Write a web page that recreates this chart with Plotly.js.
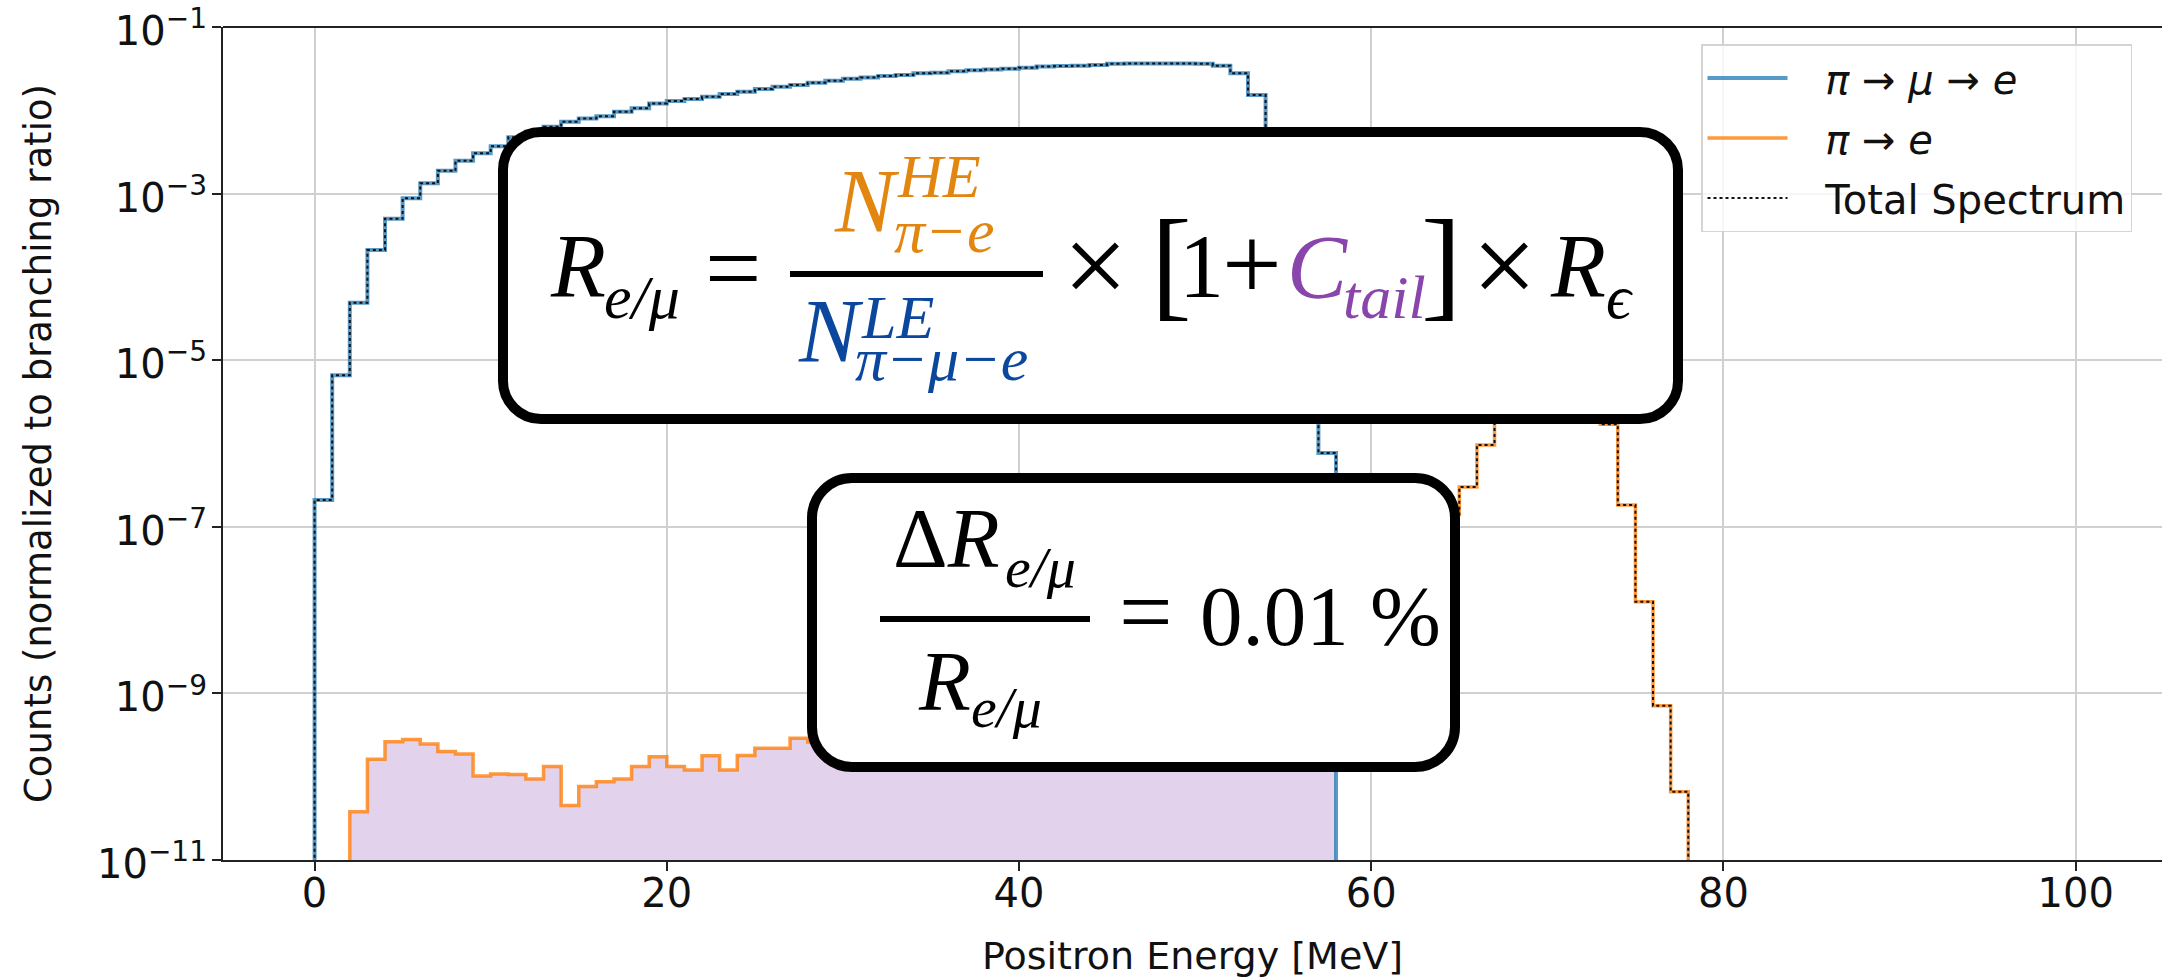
<!DOCTYPE html>
<html>
<head>
<meta charset="utf-8">
<script src="https://cdn.plot.ly/plotly-3.0.1.min.js"></script>
<style>
html,body{margin:0;padding:0;background:#fff;overflow:hidden}
#chart{width:2162px;height:978px}
</style>
</head>
<body>
<div id="chart"></div>
<script>
// ---------------- data (1 MeV bins, bin i covers [i, i+1) MeV) ----------------
const binWidth = 1;
// pi -> mu -> e spectrum, bins 0..57
const piMuE = [
  2.1e-7, 6.6e-6, 4.9e-5, 2.1e-4, 5.0e-4, 8.8e-4, 1.33e-3, 1.88e-3, 2.48e-3, 3.05e-3,
  3.7e-3, 4.74e-3, 5.53e-3, 6.35e-3, 7.3e-3, 8.0e-3, 8.5e-3, 9.6e-3, 1.06e-2, 1.21e-2,
  1.29e-2, 1.37e-2, 1.46e-2, 1.57e-2, 1.67e-2, 1.80e-2, 1.92e-2, 2.01e-2, 2.15e-2, 2.27e-2,
  2.40e-2, 2.47e-2, 2.58e-2, 2.65e-2, 2.78e-2, 2.83e-2, 2.94e-2, 3.02e-2, 3.10e-2, 3.16e-2,
  3.25e-2, 3.37e-2, 3.40e-2, 3.43e-2, 3.50e-2, 3.63e-2, 3.66e-2, 3.66e-2, 3.66e-2, 3.66e-2,
  3.63e-2, 3.43e-2, 2.78e-2, 1.53e-2, 1.2e-3, 6.0e-5, 4.0e-6, 7.7e-7
];
// pi -> e spectrum, bins 0..77
const piE = [
  0, 0, 3.8e-11, 1.62e-10, 2.63e-10, 2.8e-10, 2.47e-10, 2.0e-10, 1.87e-10, 1.02e-10,
  1.08e-10, 1.06e-10, 9.4e-11, 1.32e-10, 4.5e-11, 7.6e-11, 8.7e-11, 9.4e-11, 1.32e-10, 1.74e-10,
  1.32e-10, 1.2e-10, 1.78e-10, 1.2e-10, 1.8e-10, 2.2e-10, 2.2e-10, 2.9e-10, 2.6e-10, 3.0e-10,
  2.7e-10, 3.1e-10, 2.9e-10, 3.3e-10, 3.0e-10, 3.4e-10, 3.2e-10, 3.5e-10, 3.3e-10, 3.6e-10,
  3.4e-10, 3.7e-10, 3.5e-10, 3.8e-10, 3.6e-10, 3.9e-10, 3.7e-10, 4.0e-10, 3.9e-10, 4.2e-10,
  4.0e-10, 4.3e-10, 4.1e-10, 4.4e-10, 4.3e-10, 4.6e-10, 4.5e-10, 4.8e-10, 5.5e-10, 9.0e-10,
  2.0e-9, 6.0e-9, 2.0e-8, 6.0e-8, 1.4e-7, 3.0e-7, 9.6e-7, 6.0e-6, 3.0e-5, 1.0e-4,
  1.5e-4, 8.0e-5, 2.0e-5, 1.7e-6, 1.83e-7, 1.26e-8, 7.1e-10, 6.6e-11
];
// low-energy tail region shaded under the pi -> e spectrum (MeV)
const tailStart = 2, tailEnd = 58;

const seriesNames = ['<i>π</i> → <i>μ</i> → <i>e</i>', '<i>π</i> → <i>e</i>', 'Total Spectrum'];
const xTickVals = [0, 20, 40, 60, 80, 100];
const yTickVals = [1e-11, 1e-9, 1e-7, 1e-5, 1e-3, 1e-1];
const yTickText = ['10<sup>−11</sup>', '10<sup>−9</sup>', '10<sup>−7</sup>', '10<sup>−5</sup>', '10<sup>−3</sup>', '10<sup>−1</sup>'];

// ---------------- helpers ----------------
const FLOOR = 1e-14; // below the visible log range: step edges run off the bottom
function stepXY(values, first, lastExcl) {
  const xs = [first * binWidth], ys = [FLOOR];
  for (let i = first; i < lastExcl; i++) { xs.push(i * binWidth); ys.push(values[i]); }
  xs.push(lastExcl * binWidth); ys.push(FLOOR);
  return {x: xs, y: ys};
}
const nTot = Math.max(piMuE.length, piE.length);
const total = [];
for (let i = 0; i < nTot; i++) total.push((piMuE[i] || 0) + (piE[i] || 0));

const fillXY = stepXY(piE, tailStart, tailEnd);
const blueXY = stepXY(piMuE, 0, piMuE.length);
const orangeXY = stepXY(piE, 2, piE.length);
const totalXY = stepXY(total, 0, nTot);

const GAP = '\u2002\u00a0';
const traces = [
  {type:'scatter', mode:'lines', x:fillXY.x, y:fillXY.y, line:{shape:'hv', width:0},
   fill:'toself', fillcolor:'rgb(227,210,235)', showlegend:false, hoverinfo:'skip'},
  {type:'scatter', mode:'lines', name:GAP + seriesNames[0], legendgroup:'a', x:blueXY.x, y:blueXY.y,
   line:{shape:'hv', width:4, color:'rgba(31,119,180,0.75)'}},
  {type:'scatter', mode:'lines', name:GAP + seriesNames[1], legendgroup:'b', x:orangeXY.x, y:orangeXY.y,
   line:{shape:'hv', width:3.5, color:'rgba(255,127,14,0.8)'}},
  {type:'scatter', mode:'lines', name:GAP + seriesNames[2], legendgroup:'c', x:totalXY.x, y:totalXY.y,
   line:{shape:'hv', width:2, color:'#111', dash:'3px,3px'}}
];

// ---------------- overlay geometry (pixels -> paper) ----------------
const L = 223, R = 2162, T = 27, B = 860;
const PW = R - L, PH = B - T;
const px2x = p => (p - L) / PW;
const px2y = p => (B - p) / PH;

function roundRect(x0, y0, x1, y1, r) {
  const k = 0.5523 * r;
  const P = (x, y) => px2x(x).toFixed(5) + ',' + px2y(y).toFixed(5);
  return 'M' + P(x0 + r, y0) + ' L' + P(x1 - r, y0) +
    ' C' + P(x1 - r + k, y0) + ' ' + P(x1, y0 + r - k) + ' ' + P(x1, y0 + r) +
    ' L' + P(x1, y1 - r) +
    ' C' + P(x1, y1 - r + k) + ' ' + P(x1 - r + k, y1) + ' ' + P(x1 - r, y1) +
    ' L' + P(x0 + r, y1) +
    ' C' + P(x0 + r - k, y1) + ' ' + P(x0, y1 - r + k) + ' ' + P(x0, y1 - r) +
    ' L' + P(x0, y0 + r) +
    ' C' + P(x0, y0 + r - k) + ' ' + P(x0 + r - k, y0) + ' ' + P(x0 + r, y0) + ' Z';
}
function hbar(x0, x1, y, w) {
  return {type:'line', xref:'paper', yref:'paper', x0:px2x(x0), x1:px2x(x1), y0:px2y(y), y1:px2y(y),
    line:{color:'#000', width:w}, layer:'above'};
}
const SERIF = 'Liberation Serif, Times New Roman, serif';
function piece(text, left, baseline, size, color, italic) {
  const cy = baseline - (0.891 - 0.216) / 2 * size;
  return {xref:'paper', yref:'paper', x:px2x(left), y:px2y(cy), xanchor:'left', yanchor:'middle',
    text: italic ? '<i>' + text + '</i>' : text, showarrow:false, borderpad:0, borderwidth:0,
    font:{family:SERIF, size:size, color:color || '#000'}};
}
const ORANGE = '#e3860f', BLUE = '#0b479c', PURPLE = '#8a45ad';

const shapes = [
  {type:'line', xref:'paper', yref:'paper', x0:0, x1:1, y0:1, y1:1, line:{color:'#222', width:2}, layer:'above'},
  {type:'path', xref:'paper', yref:'paper', path:roundRect(503, 132, 1678, 419, 38),
   fillcolor:'#fff', line:{color:'#000', width:10}, layer:'above'},
  {type:'path', xref:'paper', yref:'paper', path:roundRect(812, 478, 1455, 767, 40),
   fillcolor:'#fff', line:{color:'#000', width:10}, layer:'above'},
  hbar(790, 1043, 274, 6),
  hbar(880, 1090, 619, 6)
];

const annotations = [
  // R_{e/mu} = N^HE_{pi-e} / N^LE_{pi-mu-e} x [1 + C_tail] x R_eps
  piece('R', 550, 297, 90, '#000', true),
  piece('e/μ', 604, 318, 62, '#000', true),
  piece('=', 705, 302, 100, '#000', false),
  piece('N', 834, 232, 90, ORANGE, true),
  piece('HE', 897, 197, 62, ORANGE, true),
  piece('π−e', 894, 252, 62, ORANGE, true),
  piece('N', 798, 362, 90, BLUE, true),
  piece('LE', 861, 338, 62, BLUE, true),
  piece('π−μ−e', 855, 380, 62, BLUE, true),
  piece('×', 1063, 304, 115, '#000', false),
  piece('[', 1151, 305, 122, '#000', false),
  piece('1', 1179, 297, 90, '#000', false),
  piece('+', 1222, 300, 106, '#000', false),
  piece('C', 1287, 298, 90, PURPLE, true),
  piece('tail', 1343, 318, 62, PURPLE, true),
  piece(']', 1421, 305, 122, '#000', false),
  piece('×', 1472, 304, 115, '#000', false),
  piece('R', 1550, 297, 90, '#000', true),
  piece('ϵ', 1606, 318, 62, '#000', true),
  // Delta R / R = 0.01 %
  piece('Δ<i>R</i>', 893, 567, 85, '#000', false),
  piece('e/μ', 1005, 587, 58, '#000', true),
  piece('R', 918, 710, 85, '#000', true),
  piece('e/μ', 971, 727, 58, '#000', true),
  piece('=', 1119, 644, 95, '#000', false),
  piece('0.01 %', 1200, 645, 85, '#000', false)
];

const axisCommon = {
  ticks:'outside', ticklen:9, tickwidth:2, tickcolor:'#222',
  showline:true, linecolor:'#222', linewidth:2,
  showgrid:true, gridcolor:'#d0d0d0', gridwidth:2, zeroline:false,
  tickfont:{family:'DejaVu Sans', size:40, color:'#111'}, automargin:false,
  ticklabeloverflow:'allow'
};

const layout = {
  width:2162, height:978,
  margin:{l:223, r:0, t:27, b:118},
  paper_bgcolor:'#fff', plot_bgcolor:'#fff',
  font:{family:'DejaVu Sans', color:'#111'},
  xaxis: Object.assign({}, axisCommon, {
    range:[-5.2, 104.9], tickmode:'array', tickvals:xTickVals, mirror:false,
    ticklabelstandoff:-12,
    title:{text:'Positron Energy [MeV]', font:{family:'DejaVu Sans', size:38, color:'#111'}, standoff:32}
  }),
  yaxis: Object.assign({}, axisCommon, {
    type:'log', range:[-11.0005, -0.9995], tickmode:'array', tickvals:yTickVals, ticktext:yTickText,
    ticklabelstandoff:-3, ticklabelshift:4,
    title:{text:'Counts (normalized to branching ratio)', font:{family:'DejaVu Sans', size:37, color:'#111'}, standoff:34}
  }),
  legend:{
    x:px2x(1701), y:px2y(44), xanchor:'left', yanchor:'top',
    bgcolor:'rgba(255,255,255,0.8)', bordercolor:'#d4d4d4', borderwidth:1.5,
    font:{family:'DejaVu Sans', size:40, color:'#111'},
    itemwidth:80, tracegroupgap:5, traceorder:'grouped'
  },
  shapes:shapes,
  annotations:annotations
};

Plotly.newPlot('chart', traces, layout, {displayModeBar:false, staticPlot:true});
</script>
</body>
</html>
